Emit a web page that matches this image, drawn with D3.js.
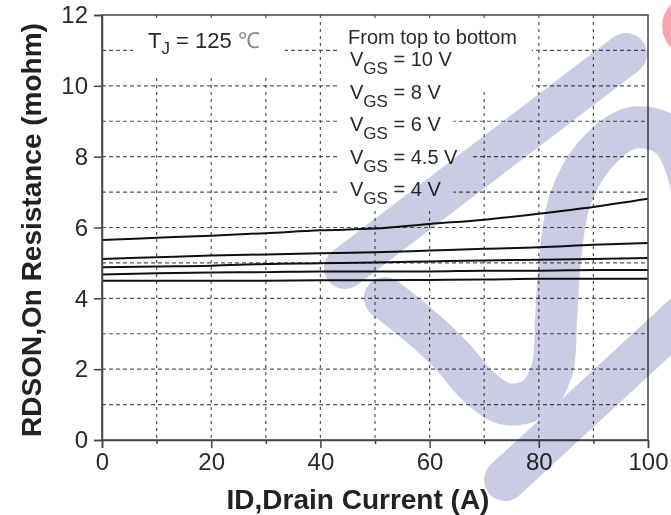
<!DOCTYPE html>
<html>
<head>
<meta charset="utf-8">
<script src="https://cdn.jsdelivr.net/npm/d3@7"></script>
<style>
  html, body { margin: 0; padding: 0; background: #fff; }
  svg { display: block; font-family: 'Liberation Sans', Arial, sans-serif; }
</style>
</head>
<body>
<svg id="chart" width="671" height="515"></svg>
<script>
// drain current (A)
const currentA = [0, 10, 20, 30, 40, 50, 60, 70, 80, 90, 100];
// on resistance (mohm), curves from top to bottom
const rdsVgs10 = [5.65, 5.71, 5.77, 5.84, 5.92, 5.97, 6.1, 6.22, 6.39, 6.58, 6.81];
const rdsVgs8 = [5.11, 5.16, 5.21, 5.24, 5.27, 5.3, 5.35, 5.4, 5.44, 5.51, 5.56];
const rdsVgs6 = [4.88, 4.9, 4.92, 4.97, 4.99, 5.01, 5.04, 5.07, 5.09, 5.11, 5.14];
const rdsVgs45 = [4.67, 4.71, 4.73, 4.74, 4.76, 4.76, 4.76, 4.78, 4.78, 4.8, 4.8];
const rdsVgs4 = [4.5, 4.5, 4.5, 4.5, 4.51, 4.51, 4.52, 4.53, 4.55, 4.55, 4.55];

const xTicks = [0, 20, 40, 60, 80, 100];
const yTicks = [0, 2, 4, 6, 8, 10, 12];
const legendRows = ['10', '8', '6', '4.5', '4'];

const series = [rdsVgs10, rdsVgs8, rdsVgs6, rdsVgs45, rdsVgs4];

const svg = d3.select('#chart');
const plotLeft = 102, plotRight = 648, plotTop = 15, plotBottom = 440;

const x = d3.scaleLinear().domain([0, 100]).range([plotLeft, plotRight]);
const y = d3.scaleLinear().domain([0, 12]).range([plotBottom, plotTop]);

// grid
const grid = svg.append('g').attr('class', 'grid');
grid.selectAll('.hgrid')
  .data(d3.range(1, 12))
  .enter()
  .append('line')
  .attr('x1', plotLeft).attr('x2', plotRight)
  .attr('y1', d => y(d)).attr('y2', d => y(d))
  .attr('stroke', '#555')
  .attr('stroke-width', 1.2)
  .attr('stroke-dasharray', '4,3');
grid.selectAll('.vgrid')
  .data(d3.range(10, 100, 10))
  .enter()
  .append('line')
  .attr('y1', plotTop).attr('y2', plotBottom)
  .attr('x1', d => x(d)).attr('x2', d => x(d))
  .attr('stroke', '#555')
  .attr('stroke-width', 1.2)
  .attr('stroke-dasharray', '3,4');

// white boxes behind the annotations (they hide the grid)
const boxes = svg.append('g');
const notes = svg.append('g').attr('fill', '#2a2a2a').attr('font-size', 20);

// pad = [left, top, right, bottom]
const tj = notes.append('text').attr('x', 148).attr('y', 48).attr('font-size', 22)
  .datum([15, 8, 25, 18]);
tj.append('tspan').text('T');
tj.append('tspan').attr('font-size', 17).attr('dy', 6).text('J');
tj.append('tspan').attr('dy', -6).text(' = 125 ');
tj.append('tspan').attr('fill', '#8a8a8a').text('℃');

notes.append('text').attr('x', 348).attr('y', 44).datum([10, 6, 15, 42])
  .text('From top to bottom');
legendRows.forEach((v, i) => {
  const t = notes.append('text').attr('x', 350).attr('y', 66 + i * 32.5).datum([10, 3, 12, 3]);
  t.append('tspan').text('V');
  t.append('tspan').attr('font-size', 17).attr('dy', 8).text('GS');
  t.append('tspan').attr('dy', -8).text(' = ' + v + ' V');
});

notes.selectAll('text').each(function (p) {
  const b = this.getBBox();
  boxes.append('rect')
    .attr('x', b.x - p[0]).attr('y', b.y - p[1])
    .attr('width', b.width + p[0] + p[2]).attr('height', b.height + p[1] + p[3])
    .attr('fill', '#fff');
});

// curves
const line = d3.line()
  .x((d, i) => x(currentA[i]))
  .y(d => y(d))
  .curve(d3.curveMonotoneX);
svg.append('g')
  .selectAll('path')
  .data(series)
  .enter()
  .append('path')
  .attr('d', line)
  .attr('fill', 'none')
  .attr('stroke', '#111')
  .attr('stroke-width', 2);

// frame
svg.append('rect')
  .attr('x', plotLeft).attr('y', plotTop)
  .attr('width', plotRight - plotLeft).attr('height', plotBottom - plotTop)
  .attr('fill', 'none')
  .attr('stroke', '#444')
  .attr('stroke-width', 1.5);

// axes
const xAxis = svg.append('g').attr('transform', `translate(0,${plotBottom})`)
  .call(d3.axisBottom(x).tickValues(xTicks).tickSize(8).tickPadding(5));
const yAxis = svg.append('g').attr('transform', `translate(${plotLeft},0)`)
  .call(d3.axisLeft(y).tickValues(yTicks).tickSize(8).tickPadding(6));
svg.append('g').attr('transform', `translate(0,${plotBottom})`)
  .call(d3.axisBottom(x).tickValues(d3.range(10, 100, 20)).tickSize(4).tickFormat(''))
  .call(g => g.select('.domain').remove());
[xAxis, yAxis].forEach(g => {
  g.select('.domain').attr('stroke', '#444').attr('stroke-width', 1.5);
  g.selectAll('.tick text')
    .attr('font-family', "'Liberation Sans', Arial, sans-serif")
    .attr('font-size', 24)
    .attr('fill', '#2a2a2a');
});
svg.selectAll('.tick line').attr('stroke', '#444').attr('stroke-width', 1.5);

// axis titles
svg.append('text')
  .attr('x', 358).attr('y', 509)
  .attr('text-anchor', 'middle')
  .attr('font-size', 28).attr('font-weight', 'bold').attr('fill', '#222')
  .text('ID,Drain Current (A)');
svg.append('text')
  .attr('transform', 'translate(41,230) rotate(-90)')
  .attr('text-anchor', 'middle')
  .attr('font-size', 28).attr('font-weight', 'bold').attr('fill', '#222')
  .text('RDSON,On Resistance (mohm)');

// watermark
const markA = [[345, 268], [626, 54]];
const markU = [[385, 298], [420, 326], [452, 356], [478, 386], [506, 404], [535, 398],
  [552, 370], [556, 320], [560, 260], [570, 200], [595, 155], [632, 128], [668, 136],
  [688, 172], [696, 230]];
const markB = [[505, 480], [700, 300]];
const wm = svg.append('g').style('mix-blend-mode', 'multiply');
const wmLine = d3.line().curve(d3.curveCatmullRom);
[markA, markU, markB].forEach(pts => {
  wm.append('path')
    .attr('d', wmLine(pts))
    .attr('fill', 'none')
    .attr('stroke', '#cbcbe4')
    .attr('stroke-width', 42)
    .attr('stroke-linecap', 'round')
    .attr('stroke-linejoin', 'round');
});
svg.append('circle')
  .attr('cx', 692).attr('cy', 26).attr('r', 30)
  .attr('fill', '#f2a6ad')
  .style('mix-blend-mode', 'multiply');
</script>
</body>
</html>
